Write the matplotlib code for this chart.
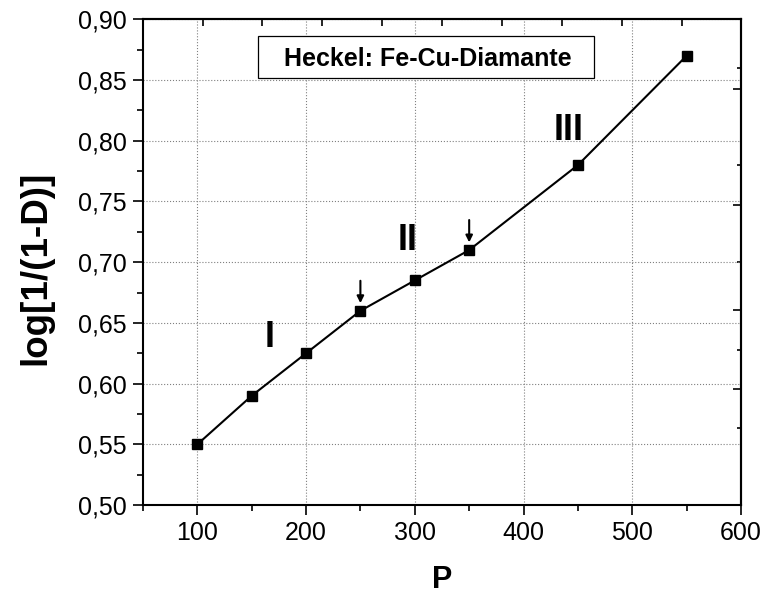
import matplotlib.pyplot as plt
from matplotlib.patches import Rectangle
from matplotlib.ticker import MultipleLocator, FuncFormatter

plt.rcParams['font.family'] = ['Liberation Sans', 'DejaVu Sans']

# datos Heckel
P = [100, 150, 200, 250, 300, 350, 450, 550]
logD = [0.55, 0.59, 0.625, 0.66, 0.685, 0.71, 0.78, 0.87]

# etapas y flechas
etapas = ['I', 'II', 'III']
etapa_x = [167, 293, 441]
etapa_y = [0.638, 0.718, 0.8086]
flecha_x = [250, 350]
flecha_y = [0.66, 0.71]

# ticks de los ejes superior y derecho (no coinciden con la grilla)
top_ticks = [105.5, 159.7, 214.9, 270.0, 325.2, 380.3, 435.4, 490.6, 545.7]
right_major = [0.8424, 0.747, 0.6605, 0.5955]
right_minor = [0.8597, 0.780, 0.700, 0.6276, 0.5634]

fig = plt.figure(figsize=(7.68, 6), dpi=100)
ax = fig.add_axes([0.186, 0.158, 0.779, 0.81])

ax.plot(P, logD, color='black', lw=1.5, marker='s', ms=6.5, zorder=3)

ax.set_xlim(50, 600)
ax.set_ylim(0.50, 0.90)
ax.xaxis.set_major_locator(MultipleLocator(100))
ax.xaxis.set_minor_locator(MultipleLocator(50))
ax.yaxis.set_major_locator(MultipleLocator(0.05))
ax.yaxis.set_minor_locator(MultipleLocator(0.025))
ax.yaxis.set_major_formatter(FuncFormatter(lambda v, p: f'{v:.2f}'.replace('.', ',')))
ax.tick_params(which='major', direction='out', length=7.5, width=1.2, labelsize=18, pad=4)
ax.tick_params(which='minor', direction='out', length=4.5, width=1.2)
ax.grid(True, which='major', ls=':', color='gray', lw=0.8)
for s in ax.spines.values():
    s.set_linewidth(1.5)

ax.set_xlabel('P', fontsize=22, fontweight='bold')
ax.xaxis.set_label_coords(0.5, -0.124)
ax.set_ylabel('log[1/(1-D)]', fontsize=26.5, fontweight='bold')
ax.yaxis.set_label_coords(-0.15, 0.489)

# ejes secundarios (solo ticks)
axt = ax.secondary_xaxis('top')
axt.set_xticks(top_ticks)
axt.tick_params(direction='in', length=5, width=1.2, labeltop=False)
axt.spines['top'].set_linewidth(1.5)
axr = ax.secondary_yaxis('right')
axr.set_yticks(right_major)
axr.set_yticks(right_minor, minor=True)
axr.tick_params(which='major', direction='in', length=6, width=1.2, labelright=False)
axr.tick_params(which='minor', direction='in', length=3, width=1.2, labelright=False)
axr.spines['right'].set_linewidth(1.5)

# recuadro del titulo
ax.add_patch(Rectangle((0.192, 0.879), 0.562, 0.086, transform=ax.transAxes,
                       fc='white', ec='black', lw=0.9, zorder=4))
ax.text(0.476, 0.903, 'Heckel: Fe-Cu-Diamante', transform=ax.transAxes,
        ha='center', va='baseline', fontsize=18, fontweight='bold', zorder=5)

for t, x, y in zip(etapas, etapa_x, etapa_y):
    ax.text(x, y, t, ha='center', va='center', fontsize=26, fontweight='bold')

for x, y in zip(flecha_x, flecha_y):
    ax.annotate('', xy=(x, y + 0.004), xytext=(x, y + 0.027),
                arrowprops=dict(arrowstyle='-|>', color='black', lw=1.5, mutation_scale=10))

plt.savefig('out.png', dpi=100)
